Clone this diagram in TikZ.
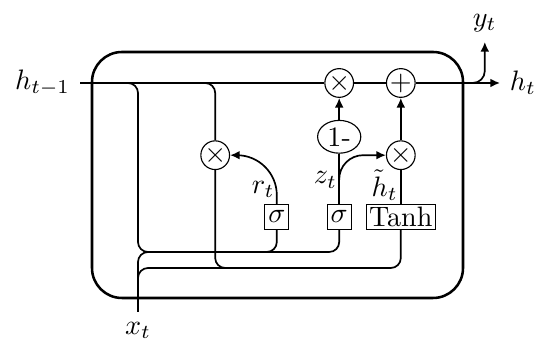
\documentclass[tikz,border=0pt]{standalone}
\usepackage{amsmath,amssymb}
\usepackage{tikz}
\usetikzlibrary{arrows.meta,positioning,shapes.geometric}

\begin{document}
\begin{tikzpicture}[
  celbox/.style={rectangle, draw, line width=0.9pt, rounded corners=3.75mm},
  opnode/.style={circle, draw, minimum size=0.35cm, inner sep=0pt},
  gatebox/.style={rectangle, draw, minimum width=0.3cm, minimum height=0.31cm,
                  inner sep=1pt},
  onebox/.style={ellipse, draw, minimum width=0.54cm, minimum height=0.41cm,
                 inner sep=0pt},
  wire/.style={line width=0.6pt, rounded corners=1.25mm},
  signal/.style={wire, -{Latex[length=1.2mm, width=1.1mm]}},
]
  \useasboundingbox (0,0) rectangle (6.7,4.25);

  % -- Cell --
  \draw[celbox] (1.15,0.525) rectangle (5.7875,3.6);

  % -- Operators on the state line --
  \node[opnode] (mulz) at (4.24,3.2125) {$\times$};
  \node[opnode] (add) at (5.01,3.2125) {$+$};
  \node[onebox] (onem) at (4.24,2.54) {1-};
  \node[opnode] (mulh) at (5.01,2.31) {$\times$};
  \node[opnode] (mulr) at (2.69,2.31) {$\times$};

  % -- Gates --
  \node[gatebox] (sigr) at (3.46,1.54) {$\sigma$};
  \node[gatebox] (sigz) at (4.24,1.54) {$\sigma$};
  \node[gatebox] (tanh) at (5.01,1.54) {Tanh};

  % -- Inputs and outputs --
  \node[anchor=east] (hprev) at (1.0,3.2125) {$h_{t-1}$};
  \node[anchor=west] (hnext) at (6.25,3.2125) {$h_t$};
  \coordinate (xin) at (1.725,0.35);
  \node[below] at (xin) {$x_t$};
  \coordinate (yout) at (6.06,3.725);
  \node[above] at (yout) {$y_t$};

  % helper points
  \coordinate (hsplita) at (1.6,3.2125);
  \coordinate (hsplitb) at (2.565,3.2125);
  \coordinate (ysplit) at (5.85,3.2125);
  \coordinate (zsplit) at (4.24,2.0);
  \coordinate (rowup) at (0,1.1);
  \coordinate (rowlo) at (0,0.9);

  % State line
  \draw[wire] (hprev) -- (mulz);
  \draw[wire] (mulz) -- (add);
  \draw[signal] (add) -- (hnext);
  \draw[signal, rounded corners=1.5mm] (ysplit) -| (yout);

  % h_{t-1} and x_t into the gates
  \draw[wire] (hsplita) -| (rowup -| xin) -| (sigz);
  \draw[wire] (sigr) |- (rowup -| mulr);
  \draw[wire] (hsplitb) -| (mulr);
  \draw[wire] (mulr) |- (rowlo -| tanh) -- (tanh);
  \draw[wire] (xin) |- (rowlo -| sigz);
  \draw[wire] (xin) |- (rowup -| sigr);

  % Gate outputs
  \draw[signal, rounded corners=5mm] (sigr) |- node[pos=0.15, left, inner sep=0.5pt] {$r_t$} (mulr);
  \draw[wire] (sigz) -- (onem);
  \draw[signal, rounded corners=3mm] (zsplit) node[left, inner sep=0.5pt] {$z_t$} |- (mulh);
  \draw[signal] (onem) -- (mulz);
  \draw[wire] (tanh) -- node[pos=0.55, left, inner sep=0.8pt] {$\tilde{h}_t$} (mulh);
  \draw[signal] (mulh) -- (add);

\end{tikzpicture}
\end{document}
